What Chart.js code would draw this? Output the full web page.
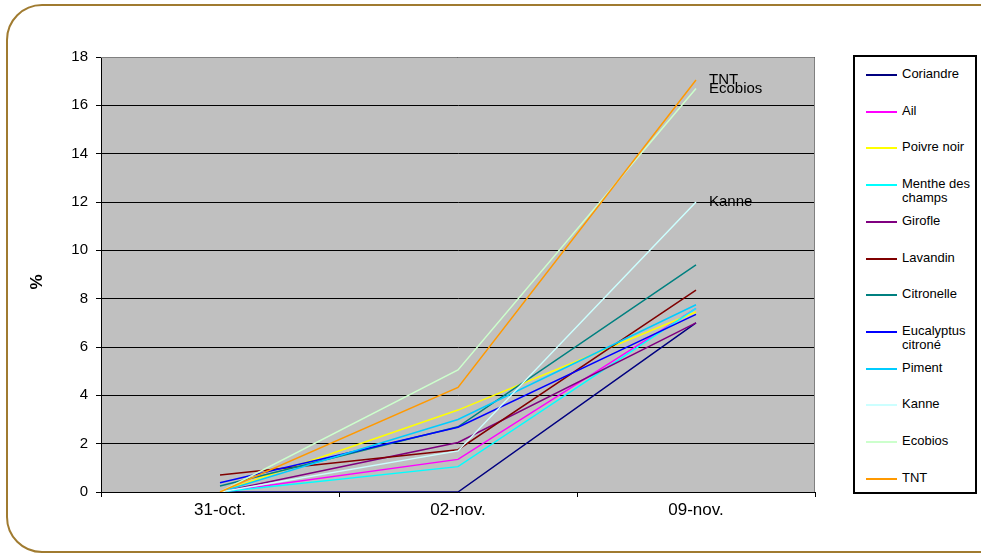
<!DOCTYPE html>
<html>
<head>
<meta charset="utf-8">
<script src="https://cdn.jsdelivr.net/npm/chart.js@4.4.1/dist/chart.umd.min.js"></script>
<style>
body { margin: 0; background: #fff; font-family: "Liberation Sans", Arial, sans-serif; }
#wrap { position: relative; width: 981px; height: 555px; overflow: hidden; }
#lineChart { position: absolute; left: 0; top: 0; }
#frame { position: absolute; left: 6px; top: 4px; width: 1010px; height: 545px; border: 2.5px solid #a07b30; border-radius: 36px; pointer-events: none; }
#legend { position: absolute; left: 853px; top: 55px; width: 120px; height: 435px; border: 2px solid #000; background: #fff; }
.item { position: absolute; left: 0; width: 120px; font-size: 13px; line-height: 14px; color: #000; }
.item .mark { position: absolute; left: 11px; top: 7px; width: 31px; height: 2px; }
.item .txt { position: absolute; left: 47px; top: 0; width: 74px; }
</style>
</head>
<body>
<div id="wrap">
  <canvas id="lineChart" width="981" height="555"></canvas>
  <div id="frame"></div>
  <div id="legend"></div>
</div>
<script>
// dates
var categories = ["31-oct.", "02-nov.", "09-nov."];

// % per product
var coriandre  = [0,    0,    7.0];
var ail        = [0,    1.35, 7.6];
var poivreNoir = [0,    3.39, 7.45];
var menthe     = [0,    1.05, 7.6];
var girofle    = [0,    2.05, 7.0];
var lavandin   = [0.7,  1.75, 8.35];
var citronelle = [0.25, 2.7,  9.4];
var eucalyptus = [0.38, 2.68, 7.35];
var piment     = [0,    3.0,  7.75];
var kanne      = [0,    1.7,  12.0];
var ecobios    = [0,    5.05, 16.7];
var tnt        = [0,    4.33, 17.05];

var seriesNames = ["Coriandre", "Ail", "Poivre noir", "Menthe des champs", "Girofle", "Lavandin",
    "Citronelle", "Eucalyptus citroné", "Piment", "Kanne", "Ecobios", "TNT"];
var seriesValues = [coriandre, ail, poivreNoir, menthe, girofle, lavandin,
    citronelle, eucalyptus, piment, kanne, ecobios, tnt];
var seriesColors = ["#000080", "#ff00ff", "#ffff00", "#00ffff", "#800080", "#800000",
    "#008080", "#0000ff", "#00ccff", "#ccffff", "#ccffcc", "#ff9900"];

// series that get their name written at the last point
var endLabels = ["TNT", "Ecobios", "Kanne"];

var yTicks = { min: 0, max: 18, step: 2 };
var yTitle = "%";

var FONT = '"Liberation Sans", Arial, sans-serif';

var datasets = seriesNames.map(function (name, i) {
    return {
        label: name,
        data: seriesValues[i],
        borderColor: seriesColors[i],
        backgroundColor: seriesColors[i],
        borderWidth: 1.5,
        pointRadius: 0,
        fill: false,
        tension: 0,
        order: seriesNames.length - i   // later series drawn on top, like Excel
    };
});

var plotArea = {
    id: 'plotArea',
    beforeDraw: function (chart) {
        var a = chart.chartArea, ctx = chart.ctx;
        ctx.save();
        ctx.fillStyle = '#c0c0c0';
        ctx.fillRect(a.left, a.top, a.right - a.left, a.bottom - a.top);
        ctx.restore();
    },
    afterDraw: function (chart) {
        var a = chart.chartArea, ctx = chart.ctx;
        ctx.save();
        ctx.strokeStyle = '#808080';
        ctx.lineWidth = 1;
        ctx.beginPath();
        ctx.moveTo(a.left, a.top + 0.5);
        ctx.lineTo(a.right - 0.5, a.top + 0.5);
        ctx.lineTo(a.right - 0.5, a.bottom);
        ctx.stroke();
        // y axis title
        ctx.translate(37, 282);
        ctx.rotate(-Math.PI / 2);
        ctx.font = 'bold 17px ' + FONT;
        ctx.fillStyle = '#000';
        ctx.textAlign = 'center';
        ctx.textBaseline = 'middle';
        ctx.fillText(yTitle, 0, 0);
        ctx.restore();
    }
};

var lastPointLabels = {
    id: 'lastPointLabels',
    afterDatasetsDraw: function (chart) {
        var ctx = chart.ctx;
        ctx.save();
        ctx.font = '15px ' + FONT;
        ctx.fillStyle = '#000';
        ctx.textAlign = 'left';
        ctx.textBaseline = 'middle';
        chart.data.datasets.forEach(function (ds, i) {
            if (endLabels.indexOf(ds.label) < 0) return;
            var pts = chart.getDatasetMeta(i).data;
            var p = pts[pts.length - 1];
            ctx.fillText(ds.label, p.x + 13, p.y);
        });
        ctx.restore();
    }
};

function generateChart() {
    var ctx = document.getElementById('lineChart');
    var chart = new Chart(ctx, {
        type: 'line',
        data: { labels: categories, datasets: datasets },
        options: {
            responsive: false,
            animation: false,
            layout: { padding: { left: 0, top: 57, right: 166, bottom: 33 } },
            plugins: { legend: { display: false }, tooltip: { enabled: false } },
            scales: {
                x: {
                    offset: true,
                    grid: { offset: true, drawOnChartArea: false, color: '#000', tickLength: 5 },
                    border: { color: '#000' },
                    ticks: { color: '#000', font: { size: 17, family: FONT }, padding: 3, maxRotation: 0 },
                    afterFit: function (s) { s.height = 30; }
                },
                y: {
                    min: yTicks.min,
                    max: yTicks.max,
                    ticks: { stepSize: yTicks.step, color: '#000', font: { size: 15, family: FONT }, padding: 8 },
                    grid: { color: '#000', tickLength: 5 },
                    border: { color: '#000' },
                    afterFit: function (s) { s.width = 101; }
                }
            }
        },
        plugins: [plotArea, lastPointLabels]
    });
    buildLegend(chart);
}

function buildLegend(chart) {
    var box = document.getElementById('legend');
    chart.data.datasets.forEach(function (ds, i) {
        var item = document.createElement('div');
        item.className = 'item';
        item.style.top = Math.round(10 + i * 36.7) + 'px';
        var mark = document.createElement('div');
        mark.className = 'mark';
        mark.style.background = ds.borderColor;
        var txt = document.createElement('div');
        txt.className = 'txt';
        txt.textContent = ds.label;
        item.appendChild(mark);
        item.appendChild(txt);
        box.appendChild(item);
    });
}

generateChart();
</script>
</body>
</html>
